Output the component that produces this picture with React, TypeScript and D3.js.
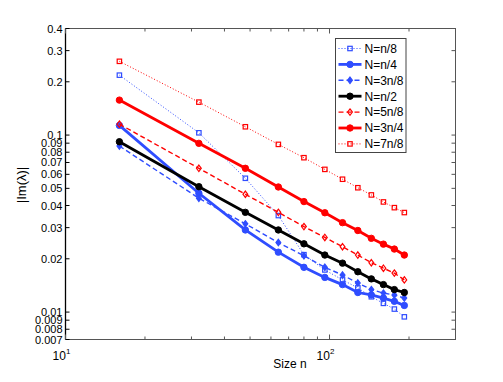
import React, { useEffect, useRef } from 'react';
import * as d3 from 'd3';

const sizes = [16, 32, 48, 64, 80, 96, 112, 128, 144, 160, 176, 192];

const nOver8 = [0.218, 0.103, 0.057, 0.0351, 0.0211, 0.0173, 0.0152, 0.0137, 0.0122, 0.0112, 0.0104, 0.0094];
const nOver4 = [0.1134, 0.0469, 0.0291, 0.0218, 0.0179, 0.0157, 0.0143, 0.0129, 0.0125, 0.012, 0.0115, 0.0109];
const n3Over8 = [0.0867, 0.044, 0.0315, 0.0247, 0.0208, 0.0179, 0.0162, 0.0146, 0.0134, 0.0128, 0.0125, 0.012];
const nOver2 = [0.0917, 0.0511, 0.0366, 0.0291, 0.0243, 0.021, 0.0189, 0.0169, 0.0154, 0.0143, 0.0134, 0.0129];
const n5Over8 = [0.1153, 0.0649, 0.0463, 0.0366, 0.0304, 0.0264, 0.0234, 0.021, 0.019, 0.0177, 0.0166, 0.0152];
const n3Over4 = [0.1576, 0.0898, 0.0649, 0.0509, 0.0421, 0.0364, 0.032, 0.0289, 0.0261, 0.0242, 0.0227, 0.021];
const n7Over8 = [0.261, 0.1535, 0.1114, 0.0886, 0.0745, 0.064, 0.0563, 0.0504, 0.0459, 0.0419, 0.0389, 0.0365];

const seriesNames = ['N=n/8', 'N=n/4', 'N=3n/8', 'N=n/2', 'N=5n/8', 'N=3n/4', 'N=7n/8'];

const yTicks = [0.007, 0.008, 0.009, 0.01, 0.02, 0.03, 0.04, 0.05, 0.06, 0.07, 0.08, 0.09, 0.1, 0.2, 0.3, 0.4];
const xTicks = [10, 20, 30, 40, 50, 60, 70, 80, 90, 100, 200, 300];
const xMajor = [10, 100];

const BLUE = '#2f4dff';
const RED = '#ff0000';

const App = () => {
  const svgRef = useRef<SVGSVGElement>(null);

  useEffect(() => {
    const svg = d3.select(svgRef.current);
    svg.selectAll('*').remove();

    const width = 503;
    const height = 382;
    const margin = { top: 28.5, right: 47.5, bottom: 42.5, left: 65.5 };

    const x = d3.scaleLog().domain([10, 300]).range([margin.left, width - margin.right]);
    const y = d3.scaleLog().domain([0.007, 0.4]).range([height - margin.bottom, margin.top]);

    const font = 'Liberation Sans, Arial, Helvetica, sans-serif';

    const series = [
      { name: seriesNames[0], values: nOver8, color: BLUE, width: 1, dash: '1,2', marker: 'square' },
      { name: seriesNames[1], values: nOver4, color: BLUE, width: 2.8, dash: null, marker: 'circle' },
      { name: seriesNames[2], values: n3Over8, color: BLUE, width: 1.4, dash: '5,3', marker: 'diamondFill' },
      { name: seriesNames[3], values: nOver2, color: '#000', width: 2.8, dash: null, marker: 'circle' },
      { name: seriesNames[4], values: n5Over8, color: RED, width: 1.4, dash: '5,3', marker: 'diamond' },
      { name: seriesNames[5], values: n3Over4, color: RED, width: 2.8, dash: null, marker: 'circle' },
      { name: seriesNames[6], values: n7Over8, color: RED, width: 1, dash: '1,2', marker: 'square' },
    ];

    // matlab style markers: circles filled, squares / diamonds open so the line shows through
    const drawMarker = (g, kind, color, cx, cy) => {
      if (kind === 'circle') {
        g.append('circle').attr('cx', cx).attr('cy', cy).attr('r', 3.2).attr('fill', color).attr('stroke', color);
      } else if (kind === 'square') {
        g.append('rect')
          .attr('x', cx - 2.2).attr('y', cy - 2.2).attr('width', 4.4).attr('height', 4.4)
          .attr('fill', 'none').attr('stroke', color).attr('stroke-width', 1.2);
      } else {
        const s = 3.2;
        g.append('path')
          .attr('d', `M${cx},${cy - s}L${cx + s * 0.75},${cy}L${cx},${cy + s}L${cx - s * 0.75},${cy}Z`)
          .attr('fill', kind === 'diamondFill' ? color : 'none')
          .attr('stroke', color).attr('stroke-width', 1.2);
      }
    };

    svg.append('rect')
      .attr('x', margin.left).attr('y', margin.top)
      .attr('width', width - margin.left - margin.right)
      .attr('height', height - margin.top - margin.bottom)
      .attr('fill', 'white');

    const line = d3.line<number>()
      .x((d, i) => x(sizes[i]))
      .y(d => y(d));

    series.forEach(s => {
      const g = svg.append('g');
      g.append('path')
        .attr('d', line(s.values))
        .attr('fill', 'none')
        .attr('stroke', s.color)
        .attr('stroke-width', s.width)
        .attr('stroke-dasharray', s.dash);
      s.values.forEach((v, i) => drawMarker(g, s.marker, s.color, x(sizes[i]), y(v)));
    });

    // box
    const x0 = margin.left, x1 = width - margin.right;
    const y0 = margin.top, y1 = height - margin.bottom;
    svg.append('rect')
      .attr('x', x0).attr('y', y0).attr('width', x1 - x0).attr('height', y1 - y0)
      .attr('fill', 'none').attr('stroke', '#555').attr('stroke-width', 1);
    svg.append('line').attr('x1', x0).attr('x2', x0).attr('y1', y0).attr('y2', y1)
      .attr('stroke', '#000').attr('stroke-width', 1.3);

    // y ticks (labels overlap at the bottom/top of each decade, as in the original)
    const yg = svg.append('g').attr('font-family', font).attr('font-size', 11);
    yTicks.forEach(t => {
      const ty = y(t);
      yg.append('line').attr('x1', x0).attr('x2', x0 + 4).attr('y1', ty).attr('y2', ty).attr('stroke', '#000');
      yg.append('line').attr('x1', x1).attr('x2', x1 - 4).attr('y1', ty).attr('y2', ty).attr('stroke', '#555');
      yg.append('text')
        .attr('x', x0 - 3).attr('y', ty + 4)
        .attr('text-anchor', 'end')
        .text(d3.format('')(t));
    });

    // x ticks
    const xg = svg.append('g').attr('font-family', font).attr('font-size', 12);
    xTicks.forEach(t => {
      const tx = x(t);
      const len = xMajor.includes(t) ? 5 : 3;
      xg.append('line').attr('x1', tx).attr('x2', tx).attr('y1', y1).attr('y2', y1 - len).attr('stroke', '#555');
      xg.append('line').attr('x1', tx).attr('x2', tx).attr('y1', y0).attr('y2', y0 + len).attr('stroke', '#555');
    });
    xMajor.forEach(t => {
      const txt = xg.append('text')
        .attr('x', x(t) - 4).attr('y', y1 + 20)
        .attr('text-anchor', 'middle');
      txt.append('tspan').text('10');
      txt.append('tspan').attr('dy', -6).attr('font-size', 8).text(String(Math.round(Math.log10(t))));
    });

    // axis labels
    svg.append('text')
      .attr('x', 290).attr('y', 368)
      .attr('text-anchor', 'middle')
      .attr('font-family', font).attr('font-size', 12)
      .text('Size n');
    svg.append('text')
      .attr('transform', `translate(26,${185}) rotate(-90)`)
      .attr('text-anchor', 'middle')
      .attr('font-family', font).attr('font-size', 13)
      .text('|Im(λ)|');

    // legend
    const lg = svg.append('g').attr('font-family', font).attr('font-size', 12);
    const lx = 335.5, ly = 38.5, lw = 70.5, lh = 114;
    lg.append('rect').attr('x', lx).attr('y', ly).attr('width', lw).attr('height', lh)
      .attr('fill', 'white').attr('stroke', '#444').attr('stroke-width', 1);
    series.forEach((s, i) => {
      const ry = 48.5 + i * 15.9;
      lg.append('line')
        .attr('x1', lx + 3).attr('x2', lx + 26).attr('y1', ry).attr('y2', ry)
        .attr('stroke', s.color).attr('stroke-width', s.width)
        .attr('stroke-dasharray', s.dash);
      drawMarker(lg, s.marker, s.color, lx + 14.5, ry);
      lg.append('text').attr('x', lx + 29).attr('y', ry + 4.3).text(s.name);
    });
  }, []);

  return (
    <svg
      ref={svgRef}
      width={503}
      height={382}
      style={{ position: 'absolute', left: 0, top: 0, background: 'white' }}
    ></svg>
  );
};

export default App;
